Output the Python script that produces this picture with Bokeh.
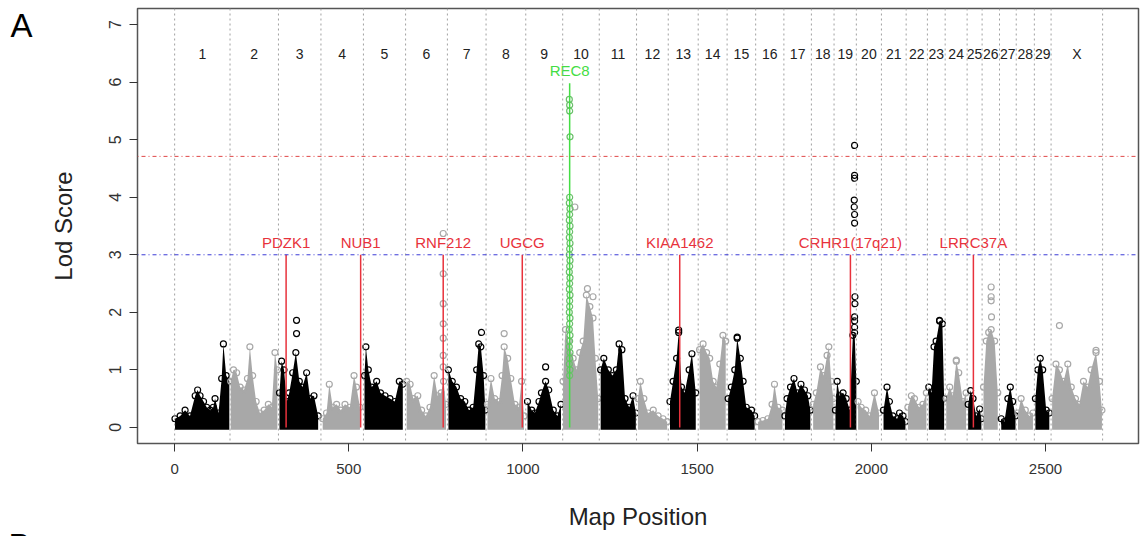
from bokeh.plotting import figure
from bokeh.models import Span, FixedTicker, Range1d
from bokeh.layouts import row, column
from bokeh.embed import file_html
from bokeh.resources import INLINE
from bokeh.core.properties import value
import numpy as np

# ---------------- data ----------------
chrom_names = [str(i) for i in range(1, 30)] + ["X"]
chrom_bounds = [0, 159, 298, 420, 542, 663, 783, 894, 1008, 1114, 1219, 1326, 1417, 1503,
                1586, 1668, 1749, 1828, 1893, 1957, 2029, 2100, 2161, 2212, 2275, 2318,
                2368, 2416, 2468, 2516, 2664]

x_ticks = [0, 500, 1000, 1500, 2000, 2500]
y_ticks = [0, 1, 2, 3, 4, 5, 6, 7]

c1_pos = [1, 16, 30, 44, 59, 66, 73, 83, 92, 102, 111, 116, 126, 135, 140, 148, 157]
c1_lod = [0.15, 0.2, 0.3, 0.2, 0.55, 0.65, 0.55, 0.45, 0.35, 0.3, 0.35, 0.5, 0.25, 0.85, 1.45, 0.9, 0.8]
c2_pos = [161, 169, 178, 188, 199, 209, 216, 224, 234, 245, 257, 269, 279, 288, 295]
c2_lod = [0.8, 1.0, 0.95, 0.7, 0.65, 0.85, 1.4, 0.9, 0.45, 0.25, 0.3, 0.4, 0.35, 1.3, 1.0]
c3_pos = [301, 307, 314, 322, 329, 339, 348, 358, 367, 379, 389, 400, 412]
c3_lod = [0.6, 1.15, 1.0, 0.45, 0.6, 0.95, 1.3, 0.8, 0.7, 0.95, 0.5, 0.55, 0.2]
c4_pos = [425, 436, 444, 454, 465, 477, 489, 503, 515, 522, 532]
c4_lod = [0.15, 0.25, 0.75, 0.35, 0.4, 0.3, 0.4, 0.35, 0.9, 0.7, 0.35]
c5_pos = [545, 549, 556, 566, 580, 591, 604, 618, 632, 645, 655]
c5_lod = [0.9, 1.4, 1.0, 0.7, 0.8, 0.6, 0.55, 0.5, 0.45, 0.8, 0.75]
c6_pos = [666, 676, 685, 698, 709, 721, 733, 745, 755, 765, 772, 779]
c6_lod = [0.8, 0.75, 0.5, 0.55, 0.3, 0.2, 0.35, 0.9, 0.55, 0.6, 0.8, 0.4]
c7_pos = [786, 797, 809, 821, 833, 845, 857, 867, 873, 879, 887, 892]
c7_lod = [1.0, 0.8, 0.7, 0.5, 0.45, 0.3, 0.35, 1.0, 1.45, 1.4, 0.9, 0.3]
c8_pos = [898, 908, 919, 931, 940, 946, 956, 965, 977, 988, 996, 1003]
c8_lod = [0.4, 0.85, 0.5, 0.45, 0.9, 1.4, 1.2, 0.85, 0.4, 0.35, 0.8, 0.2]
c9_pos = [1013, 1025, 1034, 1046, 1053, 1065, 1074, 1087, 1099, 1109]
c9_lod = [0.45, 0.3, 0.25, 0.45, 0.6, 0.8, 0.65, 0.3, 0.2, 0.4]
c10_pos = [1115, 1122, 1130, 1144, 1154, 1163, 1173, 1182, 1192, 1201, 1208, 1216]
c10_lod = [0.8, 1.7, 1.5, 1.2, 1.0, 1.3, 1.5, 2.3, 2.1, 1.9, 1.2, 0.5]
c11_pos = [1223, 1232, 1245, 1257, 1268, 1276, 1284, 1293, 1305, 1316, 1324]
c11_lod = [1.0, 1.2, 1.0, 0.9, 1.0, 1.45, 1.35, 0.5, 0.35, 0.55, 0.25]
c12_pos = [1330, 1337, 1347, 1359, 1374, 1388, 1402, 1414]
c12_lod = [0.5, 0.8, 0.5, 0.25, 0.3, 0.2, 0.15, 0.1]
c13_pos = [1422, 1431, 1441, 1447, 1455, 1464, 1477, 1485, 1496]
c13_lod = [0.45, 0.8, 1.2, 1.65, 0.7, 0.6, 1.0, 1.28, 0.6]
c14_pos = [1507, 1517, 1527, 1536, 1546, 1555, 1565, 1574, 1582]
c14_lod = [1.35, 1.45, 1.3, 1.2, 0.8, 0.7, 1.1, 1.6, 1.5]
c15_pos = [1589, 1598, 1608, 1615, 1624, 1632, 1641, 1656, 1665]
c15_lod = [0.5, 0.7, 1.0, 1.55, 1.2, 0.8, 0.35, 0.3, 0.2]
c16_pos = [1675, 1689, 1703, 1715, 1722, 1732, 1745]
c16_lod = [0.1, 0.12, 0.15, 0.4, 0.75, 0.35, 0.3]
c17_pos = [1752, 1758, 1768, 1778, 1788, 1798, 1808, 1818, 1825]
c17_lod = [0.2, 0.5, 0.7, 0.85, 0.6, 0.75, 0.65, 0.55, 0.3]
c18_pos = [1833, 1842, 1854, 1863, 1873, 1878, 1885, 1891]
c18_lod = [0.4, 0.6, 1.05, 0.9, 1.25, 1.4, 0.8, 0.5]
c19_pos = [1897, 1902, 1909, 1919, 1928, 1938, 1947, 1952, 1957]
c19_lod = [0.3, 0.8, 0.55, 0.6, 0.5, 0.3, 1.6, 1.65, 0.8]
c20_pos = [1962, 1971, 1984, 1995, 2009, 2022]
c20_lod = [0.45, 0.35, 0.3, 0.2, 0.6, 0.25]
c21_pos = [2035, 2045, 2052, 2062, 2074, 2081, 2091, 2098]
c21_lod = [0.3, 0.7, 0.45, 0.2, 0.15, 0.25, 0.2, 0.1]
c22_pos = [2105, 2115, 2124, 2137, 2148, 2158]
c22_lod = [0.35, 0.55, 0.5, 0.35, 0.4, 0.6]
c23_pos = [2165, 2173, 2180, 2186, 2196, 2204, 2209]
c23_lod = [0.7, 0.6, 1.4, 1.5, 1.85, 1.8, 0.5]
c24_pos = [2215, 2225, 2234, 2244, 2251, 2263, 2272]
c24_lod = [0.5, 0.7, 0.55, 1.15, 0.95, 0.45, 0.6]
c25_pos = [2278, 2285, 2292, 2301, 2311, 2316]
c25_lod = [0.4, 0.64, 0.5, 0.2, 0.32, 0.15]
c26_pos = [2322, 2330, 2337, 2344, 2354, 2363]
c26_lod = [0.7, 1.5, 1.65, 1.7, 1.5, 0.6]
c27_pos = [2373, 2382, 2392, 2399, 2406, 2414]
c27_lod = [0.15, 0.1, 0.5, 0.7, 0.45, 0.2]
c28_pos = [2421, 2430, 2442, 2454, 2464]
c28_lod = [0.25, 0.5, 0.3, 0.2, 0.25]
c29_pos = [2471, 2478, 2485, 2492, 2502, 2511]
c29_lod = [0.5, 1.0, 1.2, 1.0, 0.3, 0.25]
cX_pos = [2519, 2530, 2540, 2552, 2564, 2574, 2586, 2597, 2609, 2621, 2631, 2645, 2655, 2662]
cX_lod = [0.5, 1.1, 1.0, 0.8, 1.1, 0.7, 0.5, 0.4, 0.8, 0.7, 1.0, 1.3, 0.8, 0.3]

outlier_pos = [350, 350, 771, 771, 771, 771, 771, 771, 771, 881, 946, 1065, 1149, 1185, 1201,
               1447, 1615, 1952, 1952, 1952, 1951, 1951, 1952, 1952, 1953, 1953, 1952, 1952, 1952,
               2196, 2244, 2344, 2344, 2344, 2345, 2540, 2645]
outlier_lod = [1.63, 1.86, 3.37, 2.67, 2.15, 1.8, 1.55, 1.25, 1.05, 1.65, 1.63, 1.05, 3.83, 2.41, 2.27,
               1.69, 1.57, 4.9, 4.38, 4.33, 3.95, 3.83, 3.7, 3.55, 2.27, 2.15, 1.92, 1.85, 1.74,
               1.86, 1.17, 2.44, 2.27, 2.2, 1.92, 1.77, 1.34]

rec8_pos = [1133, 1134, 1134, 1135, 1134, 1133, 1135, 1134, 1133, 1135, 1134, 1133, 1135, 1134,
            1133, 1135, 1134, 1133, 1135, 1134, 1133, 1135, 1134, 1134, 1133, 1135, 1134, 1133,
            1135, 1134, 1133, 1135, 1134, 1133, 1135, 1134]
rec8_lod = [5.7, 5.6, 5.5, 5.05, 4.0, 3.9, 3.8, 3.7, 3.6, 3.5, 3.4, 3.3, 3.2, 3.1, 3.0, 2.9,
            2.8, 2.7, 2.6, 2.5, 2.4, 2.3, 2.2, 2.1, 2.0, 1.9, 1.8, 1.7, 1.6, 1.5, 1.4, 1.3,
            1.2, 1.1, 1.0, 0.9]

gene_names = ["PDZK1", "NUB1", "RNF212", "UGCG", "KIAA1462", "CRHR1(17q21)", "LRRC37A"]
gene_pos = [320, 534, 771, 998, 1450, 1940, 2293]
rec8_name = "REC8"
rec8_gene_pos = 1134
rec8_top = 5.98

suggestive_lod = 3.0
significant_lod = 4.71

panel_letters = ["A", "B"]

# ---------------- main figure ----------------
FONT = "Liberation Sans"
BLACK = "#000000"
GRAY = "#a8a8a8"
RED = "#e8323c"
GREEN = "#44dd44"
LEFT_W = 40

fig = figure(width=1140 - LEFT_W, height=536, output_backend="svg", toolbar_location=None,
             x_range=Range1d(-106.6, 2767.0), y_range=Range1d(-0.28, 7.28),
             min_border_left=137 - LEFT_W, min_border_right=2, min_border_top=8,
             min_border_bottom=93)
fig.grid.visible = False
fig.outline_line_color = "#555555"
fig.outline_line_width = 1.5
fig.background_fill_color = "white"
fig.border_fill_color = "white"

for b in chrom_bounds:
    fig.add_layout(Span(location=b, dimension="height", line_color="#a0a0a0",
                        line_dash="2 3", line_width=1))

all_pos = [c1_pos, c2_pos, c3_pos, c4_pos, c5_pos, c6_pos, c7_pos, c8_pos, c9_pos, c10_pos,
           c11_pos, c12_pos, c13_pos, c14_pos, c15_pos, c16_pos, c17_pos, c18_pos, c19_pos,
           c20_pos, c21_pos, c22_pos, c23_pos, c24_pos, c25_pos, c26_pos, c27_pos, c28_pos,
           c29_pos, cX_pos]
all_lod = [c1_lod, c2_lod, c3_lod, c4_lod, c5_lod, c6_lod, c7_lod, c8_lod, c9_lod, c10_lod,
           c11_lod, c12_lod, c13_lod, c14_lod, c15_lod, c16_lod, c17_lod, c18_lod, c19_lod,
           c20_lod, c21_lod, c22_lod, c23_lod, c24_lod, c25_lod, c26_lod, c27_lod, c28_lod,
           c29_lod, cX_lod]

for i, (xs, ys) in enumerate(zip(all_pos, all_lod)):
    col = BLACK if i % 2 == 0 else GRAY
    fig.varea(x=xs, y1=[-0.04] * len(xs), y2=ys, fill_color=col, fill_alpha=1.0)
    fig.scatter(x=xs, y=ys, marker="circle", size=6, fill_color=None,
                line_color=col, line_width=1.2)

out_idx = np.searchsorted(chrom_bounds, outlier_pos) - 1
out_col = [BLACK if k % 2 == 0 else GRAY for k in out_idx]
fig.scatter(x=outlier_pos, y=outlier_lod, marker="circle", size=6, fill_color=None,
            line_color=out_col, line_width=1.2)

fig.add_layout(Span(location=significant_lod, dimension="width", line_color="#e04848",
                    line_dash="1 3 4 3", line_width=1))
fig.add_layout(Span(location=suggestive_lod, dimension="width", line_color="#3b3bd6",
                    line_dash="1 3 4 3", line_width=1))

fig.segment(x0=gene_pos, y0=[0] * len(gene_pos), x1=gene_pos,
            y1=[suggestive_lod] * len(gene_pos), line_color=RED, line_width=1.5)
fig.text(x=gene_pos, y=[3.21] * len(gene_pos), text=gene_names, text_align="center",
         text_baseline="middle", text_font=value(FONT), text_font_size="15px",
         text_color=RED)

fig.scatter(x=rec8_pos, y=rec8_lod, marker="circle", size=6, fill_color=None,
            line_color="#6cbf6c", line_width=1.2)
fig.segment(x0=[rec8_gene_pos], y0=[0], x1=[rec8_gene_pos], y1=[rec8_top],
            line_color=GREEN, line_width=1.5)
fig.text(x=[rec8_gene_pos], y=[6.2], text=[rec8_name], text_align="center",
         text_baseline="middle", text_font=value(FONT), text_font_size="15px",
         text_color=GREEN)

mids = [(chrom_bounds[i] + chrom_bounds[i + 1]) / 2 for i in range(len(chrom_names))]
fig.text(x=mids, y=[6.49] * len(mids), text=chrom_names, text_align="center",
         text_baseline="middle", text_font=value(FONT), text_font_size="14px",
         text_color="#222222")

fig.xaxis.ticker = FixedTicker(ticks=x_ticks)
fig.yaxis.ticker = FixedTicker(ticks=y_ticks)
fig.xaxis.axis_label = "Map Position"
fig.yaxis.axis_label = "Lod Score"
for ax in (fig.xaxis[0], fig.yaxis[0]):
    ax.axis_line_color = None
    ax.major_tick_line_color = "#333333"
    ax.major_tick_out = 8
    ax.major_tick_in = 0
    ax.minor_tick_line_color = None
    ax.major_label_text_font = FONT
    ax.major_label_text_color = "#333333"
    ax.axis_label_text_font = FONT
    ax.axis_label_text_font_size = "24px"
    ax.axis_label_text_font_style = "normal"
    ax.axis_label_text_color = "#222222"
fig.xaxis.major_label_text_font_size = "15px"
fig.yaxis.major_label_text_font_size = "16px"
fig.yaxis.major_label_orientation = "vertical"
fig.xaxis.major_label_standoff = 12
fig.xaxis.axis_label_standoff = 26
fig.yaxis.major_label_standoff = 8
fig.yaxis.axis_label_standoff = 30

# ---------------- panel letters (narrow figure at the left) ----------------
side = figure(width=LEFT_W, height=536, output_backend="svg", toolbar_location=None,
              x_range=Range1d(0, LEFT_W), y_range=Range1d(0, 536),
              x_axis_location=None, y_axis_location=None,
              min_border_left=0, min_border_right=0, min_border_top=0, min_border_bottom=0)
side.grid.visible = False
side.outline_line_color = None
side.background_fill_color = "white"
side.border_fill_color = "white"
side.text(x=[21], y=[511], text=[panel_letters[0]], text_align="center",
          text_baseline="middle", text_font=value(FONT), text_font_size="33px",
          text_color="black")
side.text(x=[19], y=[10], text=[panel_letters[1]], text_align="center",
          text_baseline="top", text_font=value(FONT), text_font_size="33px",
          text_color="black")

p = row(column(side, spacing=0), fig, spacing=0)

open("out.html", "w").write(file_html(p, INLINE))
